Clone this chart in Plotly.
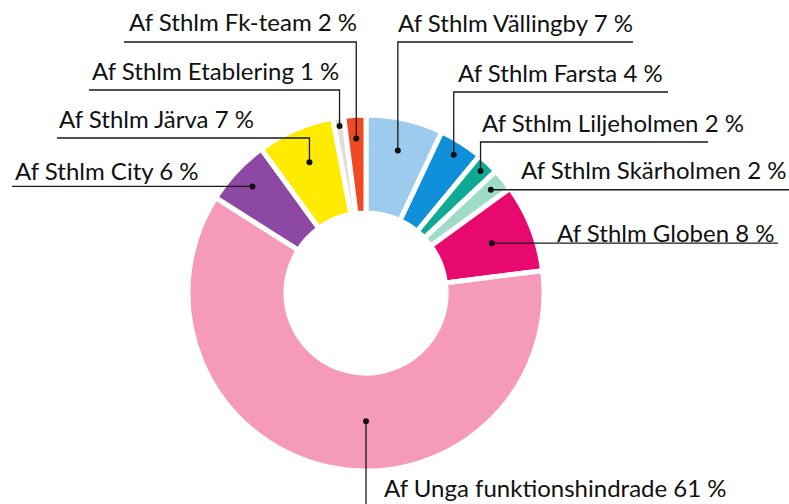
import math
import plotly.graph_objects as go

# ---- data ----
labels = ["Af Sthlm Vällingby", "Af Sthlm Farsta", "Af Sthlm Liljeholmen",
          "Af Sthlm Skärholmen", "Af Sthlm Globen", "Af Unga funktionshindrade",
          "Af Sthlm City", "Af Sthlm Järva", "Af Sthlm Etablering", "Af Sthlm Fk-team"]
values = [7, 4, 2, 2, 8, 61, 6, 7, 1, 2]
colors = ["#9ccbee", "#0f8fd9", "#10a994", "#9fdcc8", "#e8096e", "#f59ab9",
          "#8d48a4", "#ffeb00", "#e2ded5", "#ee4923"]

# ---- layout (pixels) ----
W, H = 789, 504
CX, CY, R = 366, 293, 178
HOLE = 0.45

# per-label leader style: kind, radial fraction of dot, line target, text x, text baseline
leader = [
    ("up",    0.82, 42,  633, 396, 33),
    ("up",    0.92, 92,  668, 456, 83),
    ("up",    0.94, 142, 708, 480, 133),
    ("horiz", 0.91, None, 789, 519, 180),
    ("horiz", 0.76, None, 778, 555, 243),
    ("down",  0.72, 504, None, 382, 498),
    ("horiz", 0.875, None, 12, 13, 181),
    ("up",    0.80, 138, 57,  57, 129),
    ("up",    0.95, 90,  89,  90, 81),
    ("up",    0.87, 42,  124, 127, 32),
]
anchor_angle_override = {5: 180.0}


def px(x):
    return x / W


def py(y):
    return 1 - y / H


fig = go.Figure()
fig.add_trace(go.Pie(
    labels=labels, values=values, sort=False, direction="clockwise", rotation=0,
    hole=HOLE, textinfo="none", showlegend=False,
    marker=dict(colors=colors, line=dict(color="white", width=5)),
    domain=dict(x=[px(CX - R), px(CX + R)], y=[py(CY + R), py(CY - R)]),
))

total = sum(values)
cum = 0
annotations = []
shapes = []
for i, (lab, v) in enumerate(zip(labels, values)):
    mid = (cum + v / 2) / total * 360
    cum += v
    ang = anchor_angle_override.get(i, mid)
    kind, frac, ly, ex, tx, tb = leader[i]
    r = frac * R
    dx = CX + r * math.sin(math.radians(ang))
    dy = CY - r * math.cos(math.radians(ang))
    if kind == "up":
        pts = [(dx, dy), (dx, ly), (ex, ly)]
    elif kind == "horiz":
        pts = [(dx, dy), (ex, dy)]
    else:
        pts = [(dx, dy), (dx, ly)]
    path = "M " + " L ".join(f"{px(a):.5f},{py(b):.5f}" for a, b in pts)
    shapes.append(dict(type="path", path=path, xref="paper", yref="paper", layer="above",
                       line=dict(color="#1a1a1a", width=1.3)))
    rr = 3
    shapes.append(dict(type="circle", xref="paper", yref="paper", layer="above",
                       x0=px(dx - rr), x1=px(dx + rr), y0=py(dy + rr), y1=py(dy - rr),
                       fillcolor="#111", line=dict(width=0)))
    annotations.append(dict(x=px(tx), y=py(tb + 6), xref="paper", yref="paper",
                            text=f"{lab} {v} %",
                            showarrow=False, xanchor="left", yanchor="bottom",
                            font=dict(family="Lato", size=24, color="#111")))

fig.update_layout(
    width=W, height=H, margin=dict(l=0, r=0, t=0, b=0),
    paper_bgcolor="white", plot_bgcolor="rgba(0,0,0,0)",
    annotations=annotations, shapes=shapes,
)
fig.write_html("out.html", config={"displayModeBar": False},
               post_script="document.body.style.margin='0';")
